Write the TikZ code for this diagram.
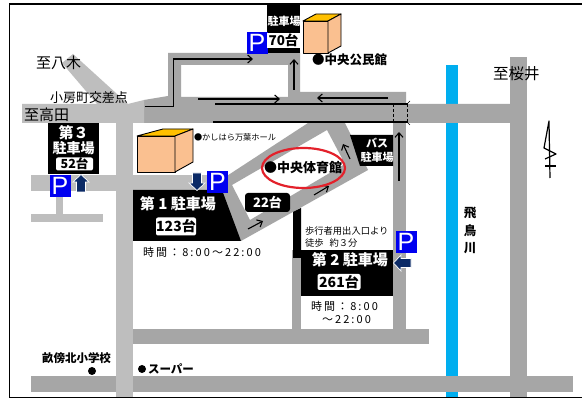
\documentclass[tikz,border=0pt]{standalone}
\usepackage{fontspec}
\setmainfont{Liberation Sans}
\newfontfamily\cjk{Noto Sans CJK JP}
\newfontfamily\cjkspaced{Noto Sans CJK JP}[LetterSpace=19]
\usetikzlibrary{arrows.meta}
\definecolor{roaddark}{HTML}{A6A6A6}
\definecolor{roadlight}{HTML}{BEBEBE}
\definecolor{river}{HTML}{00AEEF}
\definecolor{pblue}{HTML}{0000F0}
\definecolor{navy}{HTML}{0B2A66}
\definecolor{boxfront}{HTML}{FAC090}
\definecolor{boxtop}{HTML}{FFC000}
\definecolor{ringred}{HTML}{E3212B}
\newcommand{\fs}[1]{\fontsize{#1}{#1}\selectfont\cjk}
\newcommand{\fsp}[1]{\fontsize{#1}{#1}\selectfont\cjkspaced}
\newcommand{\parkarrow}[3]{\filldraw[fill=navy,draw=white,line width=0.7pt,line join=miter,shift={(#1,#2)},rotate=#3] (-8.5,0) -- (-1,-8) -- (-1,-4.5) -- (9,-4.5) -- (9,4.5) -- (-1,4.5) -- (-1,8) -- cycle;}
\tikzset{
 dark/.style={fill=roaddark,draw=none},
 light/.style={fill=roadlight,draw=none},
 lbl/.style={inner sep=0pt,outer sep=0pt,text=black,align=left},
 wlbl/.style={inner sep=0pt,outer sep=0pt,text=white,font=\fs{15}\bfseries},
 countbox/.style={fill=white,text=black,rounded corners=2pt,inner sep=0pt,font=\fs{14}\bfseries},
 pbox/.style={fill=pblue,draw=none,text=white,minimum width=21pt,minimum height=22pt,inner sep=0pt,font=\fontsize{25}{25}\selectfont},
 blk/.style={fill=black,draw=none},
 way/.style={draw=black,line width=1.1pt,-{Straight Barb[length=4.5pt,width=8pt]}},
 wayline/.style={draw=black,line width=1.1pt},
 front/.style={fill=boxfront,draw=black,line width=0.9pt,line join=round},
 btop/.style={fill=boxtop,draw=black,line width=0.9pt,line join=round},
 dot/.style={circle,fill=black,inner sep=0pt,minimum size=8pt}
}
\begin{document}
\begin{tikzpicture}[x=1pt,y=-1pt]
\useasboundingbox (0,0) rectangle (582,398);
\fill[white] (0,0) rectangle (582,398);
% river
\fill[river] (446,65) rectangle (458,398);
% roads
\fill[dark] (510,57) rectangle (527,398);
\fill[dark] (31,376) rectangle (573,392);
\fill[dark] (133,329) rectangle (429,344);
\fill[dark] (393,123) rectangle (406,329);
\fill[dark] (292,250) rectangle (301,329);
\fill[dark,even odd rule] (144,100) -- (168,96) -- (168,53) -- (300,53) -- (300,92) -- (406,92) -- (406,104) -- (510,104) -- (510,123) -- (144,123) -- cycle
  (181,65) rectangle (288,97);
% diagonal lot ring
\fill[dark,even odd rule] (213,185) -- (308,123) -- (345,123) -- (368,170) -- (241,241) -- cycle
  (327,130) -- (232,185) -- (250,220) -- (345,164) -- cycle;
% light roads
\fill[light] (62,63) -- (73,54) -- (128,104) -- (97,104) -- cycle;
\fill[light] (22,104) -- (128,104) -- (144,100) -- (144,123) -- (22,123) -- cycle;
\fill[light] (116,123) rectangle (133,398);
\fill[light] (31,175) rectangle (208,191);
\fill[light] (56,191) rectangle (63,214);
\fill[light] (31,214) rectangle (103,222);
% frame
\draw[black,line width=1.6pt] (582,4) -- (9.5,4) -- (9.5,397.5) -- (582,397.5);
% black panels
\fill[blk] (267,5) rectangle (300,53);
\fill[blk] (48,123) rectangle (99,174);
\fill[blk] (133,190) -- (222,190) -- (241,241) -- (133,241) -- cycle;
\fill[blk] (350,135) -- (393,135) -- (393,166) -- (360,166) -- cycle;
\fill[blk] (293,212) -- (301,208) -- (301,258) -- (293,258) -- cycle;
\fill[blk] (301,250) rectangle (393,296);
\fill[blk,rounded corners=3pt] (245,193) rectangle (290,212);
% buildings
\draw[btop] (137,136) -- (163,129) -- (193,129) -- (175,136) -- cycle;
\draw[front] (137,136) rectangle (175,172);
\draw[front] (175,136) -- (193,129) -- (193,162) -- (175,172) -- cycle;
\draw[btop] (303,21) -- (316,14) -- (341,14) -- (328,21) -- cycle;
\draw[front] (303,21) rectangle (328,53);
\draw[front] (328,21) -- (341,14) -- (341,46) -- (328,53) -- cycle;
% one-way arrows
\draw[way,line join=miter] (145,106.5) -- (173.5,106.5) -- (173.5,59) -- (253,59);
\draw[way] (198,99) -- (280,99);
\draw[wayline] (215,104) -- (408,104);
\draw[wayline] (213,122) -- (408,122);
\draw[way] (294,90) -- (294,59);
\draw[way] (388,98) -- (317,98);
\draw[way] (399,181) -- (399,132);
\draw[way] (350,159) -- (343,144);
\draw[way] (314,195) -- (329,186);
\draw[way] (248,229) -- (263,221);
\draw[black,line width=0.9pt,dash pattern=on 3pt off 2pt] (393,104) -- (393,122) (407,104) -- (407,122);
\draw[black,line width=0.6pt] (407,104) -- (410,101) (407,122) -- (410,125);
% north mark
\draw[black,line width=1.2pt,line join=round] (550,178) -- (549,121) -- (544,148) -- (556,154) -- (545,159);
\draw[black,line width=1.2pt] (545,166) -- (556,166);
% target ellipse
\draw[ringred,line width=2.2pt] (303.5,168) ellipse [x radius=41.5,y radius=20];
% parking tags
\node[pbox] (p70) at (257,43) {P};
\node[pbox] (p3) at (60,186) {P};
\node[pbox] (p1) at (217.5,182) {P};
\node[pbox] (p2) at (406,242) {P};
\parkarrow{81}{183}{-90}
\parkarrow{197}{182}{90}
\parkarrow{402}{263}{0}
% lot labels
\node[wlbl,font=\fs{11}\bfseries] (l70) at (284,21) {駐車場};
\node[countbox,minimum width=33pt,minimum height=15pt,rounded corners=0pt,font=\fs{13.5}\bfseries] (n70) at (283.5,40.5) {70台};
\node[wlbl] (l3a) at (73.5,133) {第３};
\node[wlbl,font=\fs{14}\bfseries] (l3b) at (73.5,148) {駐車場};
\node[countbox,minimum width=37pt,minimum height=13pt,font=\fs{12.5}\bfseries] (n3) at (74.5,164) {52台};
\node[wlbl] (l1) at (178,204) {第 1 駐車場};
\node[countbox,minimum width=40pt,minimum height=18pt] (n1) at (176,226.5) {123台};
\node[wlbl,font=\fs{13}\bfseries] (n22) at (267.5,202.5) {22台};
\node[wlbl,font=\fs{11}\bfseries] (lba) at (377,143) {バス};
\node[wlbl,font=\fs{11}\bfseries] (lbb) at (377,157) {駐車場};
\node[wlbl] (l2) at (350,260) {第 2 駐車場};
\node[countbox,minimum width=43pt,minimum height=16pt] (n2) at (339,282) {261台};
% place labels
\node[lbl,font=\fs{15},anchor=west] (t1) at (36,63) {至八木};
\node[lbl,font=\fs{13},anchor=west] (t2) at (50,98) {小房町交差点};
\node[lbl,font=\fs{15},anchor=west] (t3) at (24,115) {至高田};
\node[lbl,font=\fs{8.2},anchor=west] (t4) at (194,137) {●かしはら万葉ホール};
\node[lbl,font=\fs{12.5}\bfseries,anchor=west] (t5) at (312,60) {●中央公民館};
\node[lbl,font=\fs{15.5},anchor=west] (t6) at (493,74) {至桜井};
\node[lbl,font=\fs{13}\bfseries,anchor=west] (t7) at (264,168) {●中央体育館};
\node[lbl,font=\fs{9.3},anchor=west] (t8) at (305,231) {歩行者用出入口より};
\node[lbl,font=\fs{9.3},anchor=west] (t9) at (305,243) {徒歩\hspace{6pt}約３分};
\node[lbl,font=\fsp{11},anchor=west] (t10) at (143,252) {時間：8:00～22:00};
\node[lbl,font=\fsp{11},anchor=west] (t11) at (311,306) {時間：8:00};
\node[lbl,font=\fsp{11},anchor=west] (t12) at (322,320) {～22:00};
\node[lbl,font=\fs{12.5}\bfseries] (t13) at (470,213) {飛};
\node[lbl,font=\fs{12.5}\bfseries] (t14) at (470,231) {鳥};
\node[lbl,font=\fs{12.5}\bfseries] (t15) at (470,248) {川};
\node[lbl,font=\fs{11.5}\bfseries,anchor=west] (t16) at (42,358) {畝傍北小学校};
\node[dot] (d1) at (92,371) {};
\node[dot] (d2) at (142,369) {};
\node[lbl,font=\fs{11.5}\bfseries,anchor=west] (t17) at (148,369) {スーパー};
\end{tikzpicture}
\end{document}
